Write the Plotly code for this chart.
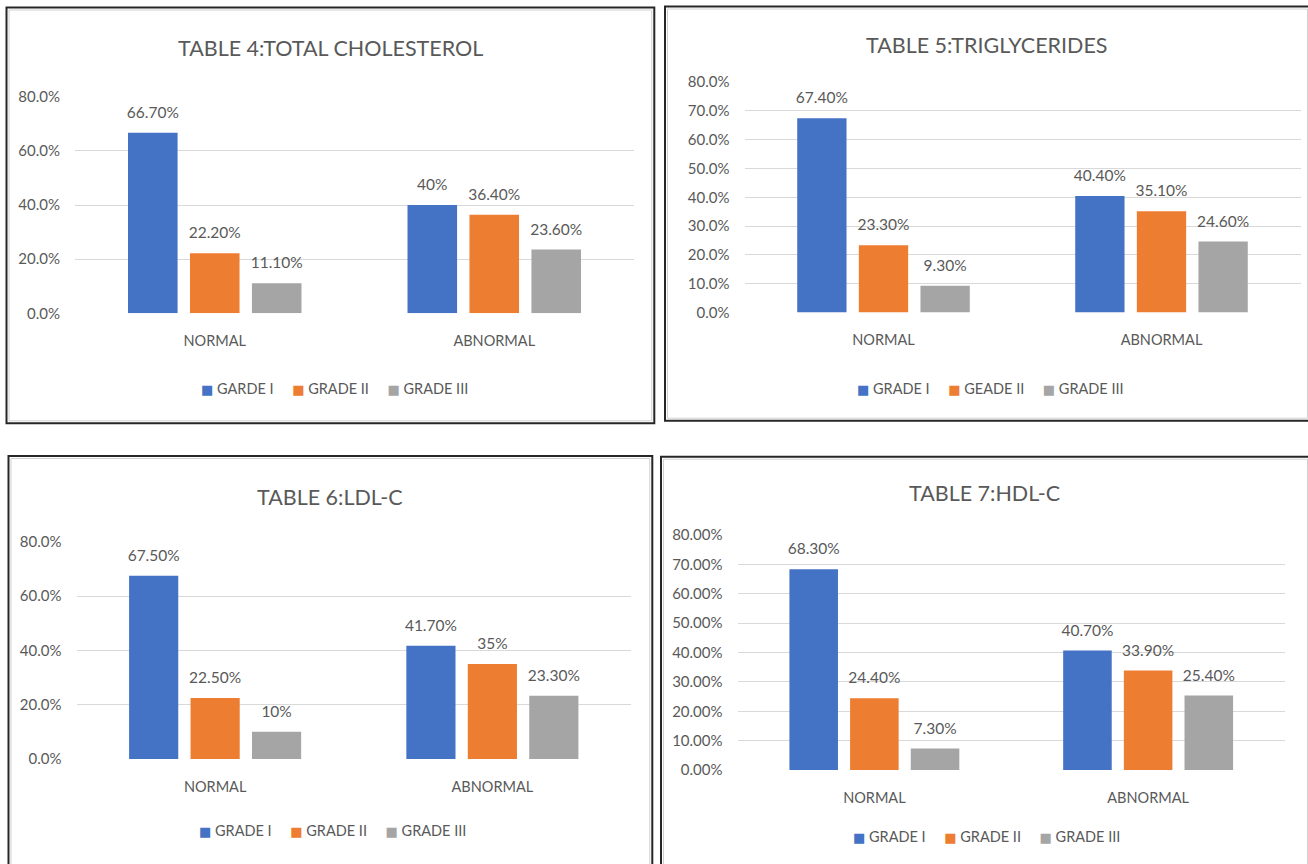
import plotly.graph_objects as go

# ---- data -------------------------------------------------------------
CATEGORIES = ["NORMAL", "ABNORMAL"]

TITLES = [
    "TABLE 4:TOTAL CHOLESTEROL",
    "TABLE 5:TRIGLYCERIDES",
    "TABLE 6:LDL-C",
    "TABLE 7:HDL-C",
]

# series names as printed in each chart's legend
T4_NAMES = ["GARDE I", "GRADE II", "GRADE III"]
T5_NAMES = ["GRADE I", "GEADE II", "GRADE III"]
T6_NAMES = ["GRADE I", "GRADE II", "GRADE III"]
T7_NAMES = ["GRADE I", "GRADE II", "GRADE III"]

# percentages (NORMAL, ABNORMAL)
T4_GRADE_I = [66.7, 40.0]
T4_GRADE_II = [22.2, 36.4]
T4_GRADE_III = [11.1, 23.6]

T5_GRADE_I = [67.4, 40.4]
T5_GRADE_II = [23.3, 35.1]
T5_GRADE_III = [9.3, 24.6]

T6_GRADE_I = [67.5, 41.7]
T6_GRADE_II = [22.5, 35.0]
T6_GRADE_III = [10.0, 23.3]

T7_GRADE_I = [68.3, 40.7]
T7_GRADE_II = [24.4, 33.9]
T7_GRADE_III = [7.3, 25.4]

Y_DTICK = [20, 10, 20, 10]
Y_FORMAT = [".1f", ".1f", ".1f", ".2f"]

# ---- styling ------------------------------------------------------------
COLORS = ["#4472C4", "#ED7D31", "#A5A5A5"]
TEXT = "#595959"
GRID = "#D9D9D9"
FONT = "Lato, Roboto, sans-serif"

W, H = 1308, 864


def fx(x):
    return x / W


def fy(y):
    return 1 - y / H


def label(v):
    return f"{v:.0f}%" if float(v).is_integer() else f"{v:.2f}%"


def legend_text(names):
    # compact Excel-style key: colour square right next to each series name
    items = []
    for name, color in zip(names, COLORS):
        items.append(
            f'<span style="color:{color};font-family:DejaVu Sans;font-size:13px">\u25A0</span>'
            f"\u00A0{name}"
        )
    return ("\u00A0" * 5).join(items)


# plot areas in pixels: left, right, top (80 %), bottom (0 %)
PLOT_BOX = [
    (75, 634, 96.7, 313.3),
    (744.5, 1300.5, 82, 312.5),
    (76.5, 631, 541.7, 759),
    (737.5, 1285, 535, 770),
]
# chart frames: left, right, top, bottom
FRAMES = [
    (6.5, 654.3, 7.5, 423.3),
    (665, 1310, 6.5, 420.7),
    (8.5, 652.3, 456, 867),
    (661, 1310, 456.7, 867),
]
TITLE_POS = [(330.5, 48), (987, 45), (330, 497), (984, 493)]
LEGEND_POS = [(334, 388), (990, 388), (333, 830), (986, 836)]

panels = [
    (T4_NAMES, [T4_GRADE_I, T4_GRADE_II, T4_GRADE_III]),
    (T5_NAMES, [T5_GRADE_I, T5_GRADE_II, T5_GRADE_III]),
    (T6_NAMES, [T6_GRADE_I, T6_GRADE_II, T6_GRADE_III]),
    (T7_NAMES, [T7_GRADE_I, T7_GRADE_II, T7_GRADE_III]),
]

fig = go.Figure()
layout = {}
shapes = []
annotations = []

for i, (names, series) in enumerate(panels):
    n = i + 1
    xa = "x" if n == 1 else f"x{n}"
    ya = "y" if n == 1 else f"y{n}"
    for k, (name, vals) in enumerate(zip(names, series)):
        fig.add_trace(go.Bar(
            x=CATEGORIES, y=vals, name=name,
            marker=dict(color=COLORS[k], line=dict(width=0)),
            xaxis=xa, yaxis=ya, showlegend=False,
            offsetgroup=str(k), alignmentgroup=f"p{n}",
            hoverinfo="skip",
        ))
    # value labels, grouped the same way as the bars
    for k, vals in enumerate(series):
        fig.add_trace(go.Scatter(
            x=CATEGORIES, y=vals, mode="markers+text",
            text=[label(v) for v in vals], textposition="top center",
            textfont=dict(family=FONT, size=15.5, color=TEXT),
            marker=dict(size=16, opacity=0),
            xaxis=xa, yaxis=ya, showlegend=False, cliponaxis=False,
            offsetgroup=str(k), alignmentgroup=f"p{n}",
            hoverinfo="skip",
        ))

    l, r, t, b = PLOT_BOX[i]
    layout["xaxis" if n == 1 else f"xaxis{n}"] = dict(
        domain=[fx(l), fx(r)], anchor=ya, type="category",
        showline=False, showgrid=False, zeroline=False, ticks="",
        tickfont=dict(family=FONT, size=14.5, color=TEXT),
        ticklabelstandoff=17, fixedrange=True, automargin=False,
    )
    layout["yaxis" if n == 1 else f"yaxis{n}"] = dict(
        domain=[fy(b), fy(t)], anchor=xa, range=[0, 80],
        dtick=Y_DTICK[i], tick0=0, tickformat=Y_FORMAT[i], ticksuffix="%",
        showgrid=True, gridcolor=GRID, gridwidth=1,
        zeroline=False, showline=False, ticks="",
        tickfont=dict(family=FONT, size=15, color=TEXT),
        ticklabelstandoff=14, fixedrange=True, automargin=False,
    )
    tx, ty = TITLE_POS[i]
    annotations.append(dict(
        text=TITLES[i], x=fx(tx), y=fy(ty), xref="paper", yref="paper",
        xanchor="center", yanchor="middle", showarrow=False,
        font=dict(family=FONT, size=21.5, color=TEXT),
    ))
    lx, ly = LEGEND_POS[i]
    annotations.append(dict(
        text=legend_text(names), x=fx(lx), y=fy(ly), xref="paper", yref="paper",
        xanchor="center", yanchor="middle", showarrow=False,
        font=dict(family=FONT, size=14.5, color=TEXT),
    ))
    fl, fr, ft, fb = FRAMES[i]
    # thin light inner edge, then the dark frame
    shapes.append(dict(type="rect", xref="paper", yref="paper",
                       x0=fx(fl + 2.5), x1=fx(fr - 2.5), y0=fy(fb - 2.5), y1=fy(ft + 2.5),
                       line=dict(color="#D0D0D0", width=1), layer="below"))
    shapes.append(dict(type="rect", xref="paper", yref="paper",
                       x0=fx(fl), x1=fx(fr), y0=fy(fb), y1=fy(ft),
                       line=dict(color="#262626", width=2), layer="above"))

fig.update_layout(
    width=W, height=H,
    margin=dict(l=0, r=0, t=0, b=0, pad=0, autoexpand=False),
    paper_bgcolor="white", plot_bgcolor="white",
    barmode="group", bargap=0.335, bargroupgap=0.2,
    scattermode="group", scattergap=0.335,
    shapes=shapes, annotations=annotations,
    font=dict(family=FONT, color=TEXT),
    **layout,
)

fig.write_html("out.html", config={"displayModeBar": False})
